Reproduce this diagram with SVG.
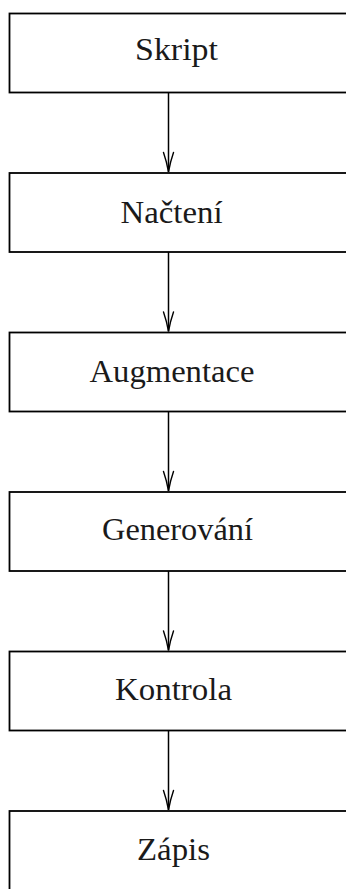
<svg xmlns="http://www.w3.org/2000/svg" width="346" height="889" viewBox="0 0 346 889">
  <defs>
    <style>
      .box { fill: #ffffff; stroke: #000000; stroke-width: 1.8; }
      .lbl { font-family: "Liberation Serif", "DejaVu Serif", serif; font-size: 32px; fill: #1a1a1a; text-anchor: middle; }
      .edge { stroke: #000000; stroke-width: 1.5; fill: none; }
      .tip { stroke: #000000; stroke-width: 1.4; fill: none; stroke-linecap: round; }
    </style>
  </defs>
  <rect x="0" y="0" width="346" height="889" fill="#ffffff"/>

  <!-- connectors: vertical line and curved "to"-style arrowhead -->
  <g id="connectors">
    <path class="edge" d="M168.5,92.5 V172"/>
    <path class="tip" d="M163.5,152.5 Q166.8,162 168.5,172 Q170.2,162 173.5,152.5"/>
    <path class="edge" d="M168.5,252 V331.5"/>
    <path class="tip" d="M163.5,312 Q166.8,321.5 168.5,331.5 Q170.2,321.5 173.5,312"/>
    <path class="edge" d="M168.5,411.5 V491"/>
    <path class="tip" d="M163.5,471.5 Q166.8,481 168.5,491 Q170.2,481 173.5,471.5"/>
    <path class="edge" d="M168.5,571 V650.5"/>
    <path class="tip" d="M163.5,631 Q166.8,640.5 168.5,650.5 Q170.2,640.5 173.5,631"/>
    <path class="edge" d="M168.5,730.5 V810"/>
    <path class="tip" d="M163.5,790.5 Q166.8,800 168.5,810 Q170.2,800 173.5,790.5"/>
  </g>

  <g id="skript">
    <rect class="box" x="9.5" y="13.5" width="345" height="79"/>
    <text class="lbl" x="176.5" y="60" textLength="83" lengthAdjust="spacingAndGlyphs">Skript</text>
  </g>
  <g id="nacteni">
    <rect class="box" x="9.5" y="173" width="345" height="79"/>
    <text class="lbl" x="171.5" y="222.5" textLength="102" lengthAdjust="spacingAndGlyphs">Načtení</text>
  </g>
  <g id="augmentace">
    <rect class="box" x="9.5" y="332.5" width="345" height="79"/>
    <text class="lbl" x="172" y="381.5" textLength="165" lengthAdjust="spacingAndGlyphs">Augmentace</text>
  </g>
  <g id="generovani">
    <rect class="box" x="9.5" y="492" width="345" height="79"/>
    <text class="lbl" x="177.5" y="540" textLength="151" lengthAdjust="spacingAndGlyphs">Generování</text>
  </g>
  <g id="kontrola">
    <rect class="box" x="9.5" y="651.5" width="345" height="79"/>
    <text class="lbl" x="173.5" y="700" textLength="117" lengthAdjust="spacingAndGlyphs">Kontrola</text>
  </g>
  <g id="zapis">
    <rect class="box" x="9.5" y="811" width="345" height="79"/>
    <text class="lbl" x="173.5" y="859.5" textLength="73" lengthAdjust="spacingAndGlyphs">Zápis</text>
  </g>
</svg>
